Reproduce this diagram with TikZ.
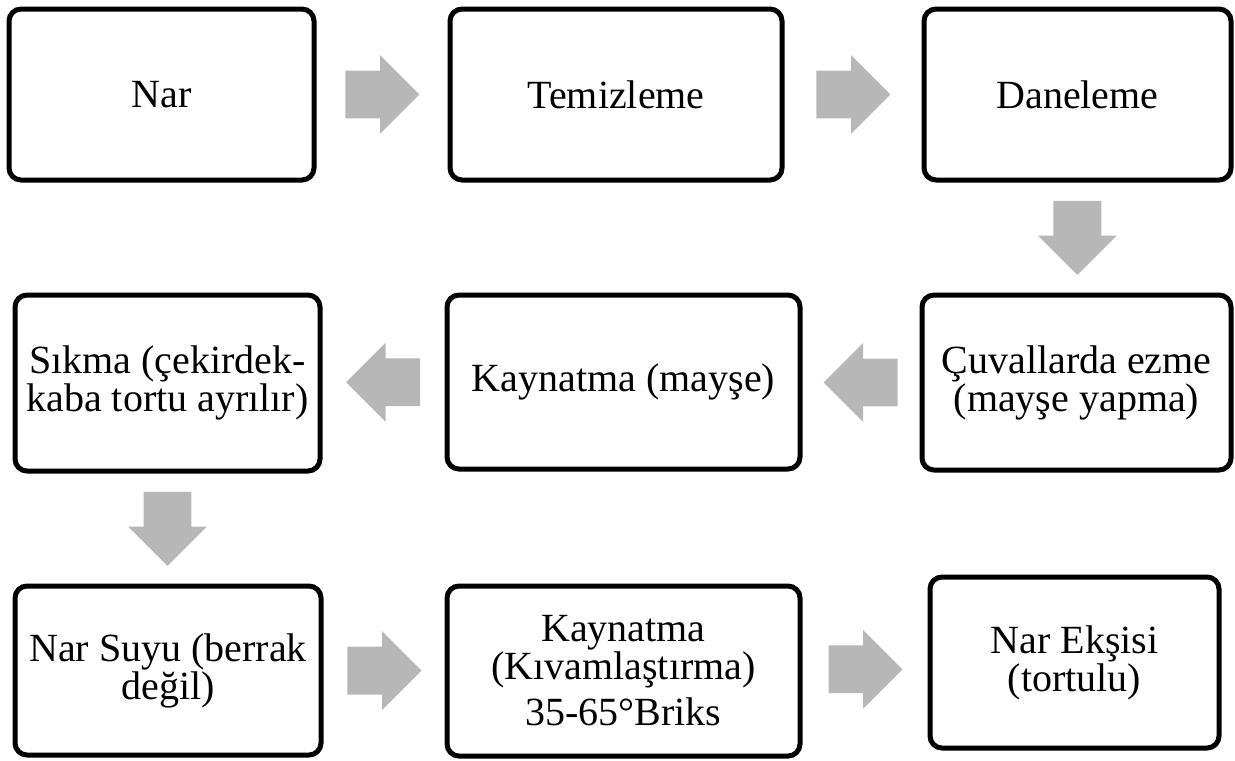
\documentclass[tikz,border=0pt]{standalone}
\usepackage{fontspec}
\setmainfont{Liberation Serif}
\usetikzlibrary{shapes.arrows,calc}
\definecolor{arrowgray}{RGB}{183,183,183}

\tikzset{
  stepbox/.style={draw, line width=2.5pt, rounded corners=6pt, align=center,
    inner sep=0pt, font=\fontsize{20}{19}\selectfont},
  blockarrow/.style={single arrow, fill=arrowgray, draw=none, anchor=tail,
    inner xsep=0pt, inner ysep=11.75pt,
    minimum height=37pt, single arrow head extend=7.75pt,
    single arrow head indent=0pt},
}

\begin{document}
\begin{tikzpicture}[x=0.5pt,y=-0.5pt]
    \useasboundingbox (0,0) rectangle (1235,760);
    % first row
    \node[stepbox, minimum width=152.5pt, minimum height=85.5pt] (nar) at (161.5,94.5) {Nar};
    \node[stepbox, minimum width=166pt, minimum height=85.5pt] (temiz) at (616,94.5) {Temizleme};
    \node[stepbox, minimum width=153.5pt, minimum height=85.5pt] (dane) at (1077.5,94.5) {Daneleme};
    % second row
    \node[stepbox, minimum width=152.5pt, minimum height=88pt] (sikma) at (167.5,383) {Sıkma (çekirdek-\\kaba tortu ayrılır)};
    \node[stepbox, minimum width=176.5pt, minimum height=87pt] (mayse) at (623.5,382) {Kaynatma (mayşe)};
    \node[stepbox, minimum width=154.5pt, minimum height=87.5pt] (ezme) at (1076.5,382.5) {Çuvallarda ezme\\(mayşe yapma)};
    % third row
    \node[stepbox, minimum width=153pt, minimum height=84.5pt] (suyu) at (168,670.5) {Nar Suyu (berrak\\değil)};
    \node[stepbox, minimum width=176.5pt, minimum height=85pt] (kivam) at (623.5,671) {Kaynatma\\(Kıvamlaştırma)\\[4pt]35-65°Briks};
    \node[stepbox, minimum width=144.5pt, minimum height=85.5pt] (eksi) at (1074.5,662.5) {Nar Ekşisi\\(tortulu)};

    % block arrows, centred in the gap between two steps
    \node[blockarrow] (a1) at ($($(nar.east)!0.5!(temiz.west)$)!18.5pt!(nar.east)$) {};
    \node[blockarrow] (a2) at ($($(temiz.east)!0.5!(dane.west)$)!18.5pt!(temiz.east)$) {};
    \node[blockarrow, rotate=-90] (a3) at ($($(dane.south)!0.5!(ezme.north)$)!18.5pt!(dane.south)$) {};
    \node[blockarrow, rotate=180] (a4) at ($($(ezme.west)!0.5!(mayse.east)$)!18.5pt!(ezme.west)$) {};
    \node[blockarrow, rotate=180] (a5) at ($($(mayse.west)!0.5!(sikma.east)$)!18.5pt!(mayse.west)$) {};
    \node[blockarrow, rotate=-90] (a6) at ($($(sikma.south)!0.5!(suyu.north)$)!18.5pt!(sikma.south)$) {};
    \node[blockarrow] (a7) at ($($(suyu.east)!0.5!(kivam.west)$)!18.5pt!(suyu.east)$) {};
    \node[blockarrow] (a8) at ($($(kivam.east)!0.5!(eksi.west)$)!18.5pt!(kivam.east)$) {};
\end{tikzpicture}
\end{document}
